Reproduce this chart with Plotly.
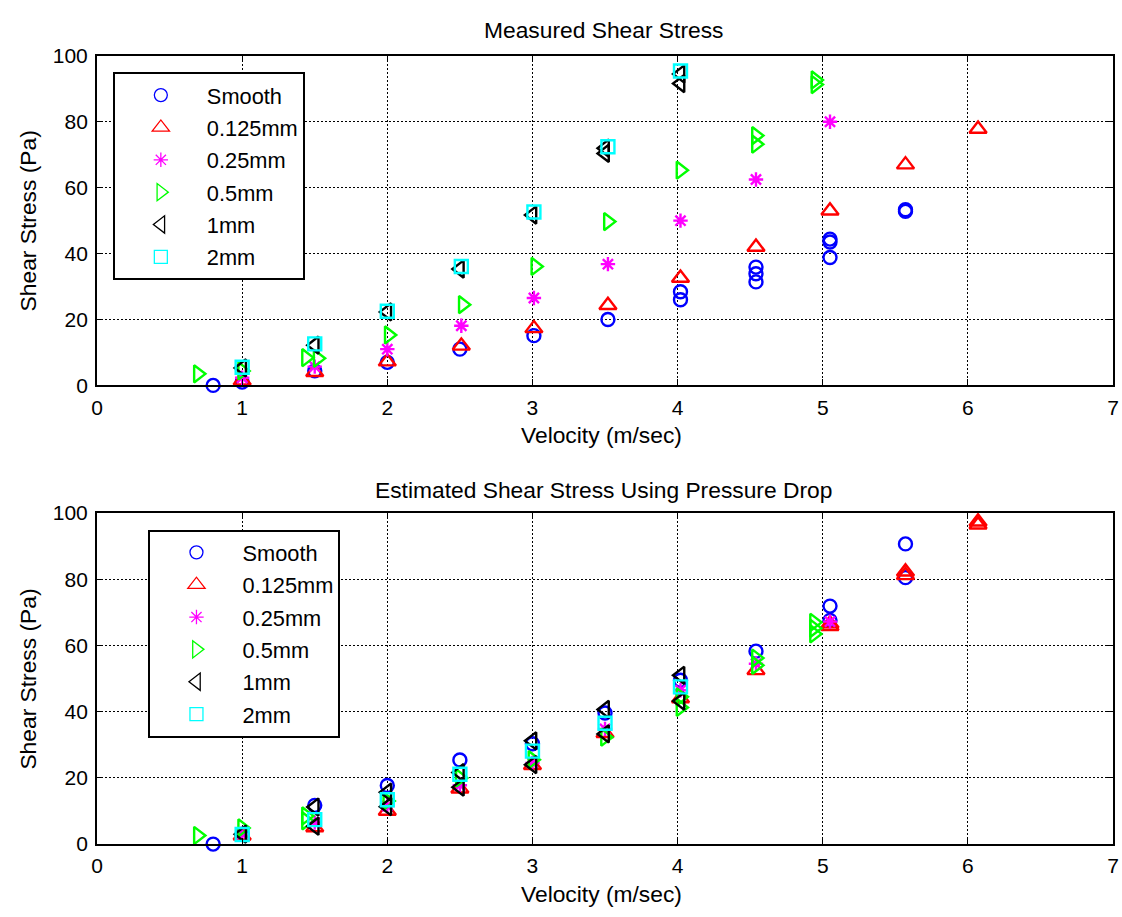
import plotly.graph_objects as go

# ---------------- Measured shear stress (top panel) ----------------
m_smooth_v = [0.80, 1.00, 1.50, 2.00, 2.50, 3.01, 3.52, 4.02, 4.02, 4.54, 4.54, 4.54, 5.05, 5.05, 5.05, 5.57, 5.57]
m_smooth_t = [0.0, 1.0, 4.4, 7.0, 11.0, 15.1, 20.0, 28.4, 26.0, 35.9, 33.9, 31.4, 44.4, 43.5, 38.8, 53.3, 52.8]

m_r0125_v = [1.00, 1.50, 2.00, 2.51, 3.01, 3.52, 4.02, 4.54, 5.05, 5.57, 6.07]
m_r0125_t = [1.4, 4.0, 7.2, 12.0, 17.3, 24.3, 32.6, 42.0, 53.0, 67.0, 77.8]

m_r025_v = [1.00, 1.50, 2.00, 2.51, 3.01, 3.52, 4.02, 4.54, 5.05]
m_r025_t = [2.3, 5.7, 11.0, 18.1, 26.5, 36.8, 50.0, 62.5, 80.0]

m_r05_v = [0.695, 1.00, 1.44, 1.52, 2.01, 2.52, 3.02, 3.52, 4.02, 4.54, 4.54, 4.95, 4.95]
m_r05_t = [3.5, 4.4, 8.4, 8.2, 15.3, 24.5, 36.1, 49.7, 65.3, 75.8, 73.2, 91.3, 92.7]

m_r1_v = [1.00, 1.50, 2.00, 2.50, 3.00, 3.50, 3.50, 4.02, 4.02]
m_r1_t = [5.3, 12.2, 22.3, 35.3, 51.7, 70.4, 72.0, 91.6, 94.5]

m_r2_v = [1.00, 1.50, 2.00, 2.51, 3.01, 3.52, 4.02]
m_r2_t = [5.5, 12.6, 22.5, 36.1, 52.6, 72.4, 95.4]

# ------------- Estimated shear stress from pressure drop (bottom panel) -------------
e_smooth_v = [0.80, 1.00, 1.50, 2.00, 2.50, 3.00, 3.50, 4.02, 4.54, 5.05, 5.05, 5.57, 5.57]
e_smooth_t = [0.0, 3.0, 11.7, 17.7, 25.4, 30.3, 39.6, 49.5, 58.3, 71.9, 67.6, 90.7, 80.5]

e_r0125_v = [1.00, 1.50, 2.00, 2.50, 3.00, 3.50, 4.02, 4.54, 5.05, 5.05, 5.57, 5.57, 6.07, 6.07]
e_r0125_t = [2.5, 5.0, 10.0, 16.7, 23.8, 33.5, 44.0, 52.5, 65.8, 66.6, 81.2, 82.3, 96.5, 97.4]

e_r025_v = [1.00, 1.50, 2.00, 2.50, 3.00, 3.50, 4.02, 4.54, 5.05]
e_r025_t = [3.0, 6.5, 11.5, 17.8, 24.5, 34.8, 46.5, 54.5, 67.2]

e_r05_v = [0.695, 1.00, 1.44, 1.44, 2.00, 2.50, 3.00, 3.50, 4.02, 4.02, 4.54, 4.54, 4.94, 4.94, 4.94]
e_r05_t = [2.6, 4.9, 8.5, 7.0, 13.0, 20.0, 25.5, 32.3, 41.3, 44.5, 56.2, 54.0, 67.0, 65.2, 63.5]

e_r1_v = [1.00, 1.50, 1.50, 2.00, 2.00, 2.50, 2.50, 3.00, 3.00, 3.50, 3.50, 4.02, 4.02]
e_r1_t = [3.0, 11.2, 5.4, 15.7, 11.3, 21.6, 17.2, 31.2, 24.0, 40.7, 33.3, 51.0, 43.2]

e_r2_v = [1.00, 1.50, 2.00, 2.50, 3.00, 3.50, 4.02]
e_r2_t = [2.9, 7.4, 13.4, 21.1, 28.1, 36.5, 47.5]

series_names = ["Smooth", "0.125mm", "0.25mm", "0.5mm", "1mm", "2mm"]
x_ticks = [0, 1, 2, 3, 4, 5, 6, 7]
y_ticks = [0, 20, 40, 60, 80, 100]

styles = [
    dict(symbol="circle-open", color="#0000FF", size=13),
    dict(symbol="triangle-up-open", color="#FF0000", size=15),
    dict(symbol="asterisk-open", color="#FF00FF", size=12),
    dict(symbol="triangle-right-open", color="#00FF00", size=15),
    dict(symbol="triangle-left-open", color="#000000", size=15),
    dict(symbol="square-open", color="#00FFFF", size=13),
]

measured = [(m_smooth_v, m_smooth_t), (m_r0125_v, m_r0125_t), (m_r025_v, m_r025_t),
            (m_r05_v, m_r05_t), (m_r1_v, m_r1_t), (m_r2_v, m_r2_t)]
estimated = [(e_smooth_v, e_smooth_t), (e_r0125_v, e_r0125_t), (e_r025_v, e_r025_t),
             (e_r05_v, e_r05_t), (e_r1_v, e_r1_t), (e_r2_v, e_r2_t)]

FONT = "Liberation Sans, Arial, Helvetica, sans-serif"
W, H = 1122, 917

fig = go.Figure()

panels = [("x", "y", "legend", measured), ("x2", "y2", "legend2", estimated)]
for xa, ya, leg, data in panels:
    for name, st, (v, t) in zip(series_names, styles, data):
        # data markers (bold outlines)
        fig.add_trace(go.Scatter(
            x=v, y=t, mode="markers", name=name,
            xaxis=xa, yaxis=ya, showlegend=False,
            cliponaxis=False,
            marker=dict(symbol=st["symbol"], size=st["size"], color=st["color"],
                        line=dict(color=st["color"], width=2.4)),
        ))
        # legend key with a thin outline
        fig.add_trace(go.Scatter(
            x=[None], y=[None], mode="markers", name=name,
            xaxis=xa, yaxis=ya, legend=leg, legendgroup=leg + name,
            marker=dict(symbol=st["symbol"], size=st["size"], color=st["color"],
                        line=dict(color=st["color"], width=1.3)),
        ))

def px_x(p):
    return p / W

def px_y(p):
    return 1 - p / H

x_dom = [px_x(92), px_x(1119)]
top_dom = [px_y(383), px_y(45)]
bot_dom = [px_y(853.5), px_y(514)]

axis_common = dict(
    showline=True, linecolor="black", linewidth=2, mirror="ticks",
    ticks="inside", ticklen=6, tickwidth=1, tickcolor="black",
    showgrid=True, gridcolor="black", gridwidth=1, griddash="2px,2px",
    zeroline=False, ticklabeloverflow="allow",
    tickfont=dict(family=FONT, size=21, color="black"),
)

legend_common = dict(
    xanchor="left", yanchor="top",
    bgcolor="white", bordercolor="black", borderwidth=2,
    font=dict(family=FONT, size=21.8, color="black"),
    itemwidth=82, tracegroupgap=1,
)

fig.update_layout(
    width=W, height=H,
    margin=dict(l=0, r=0, t=0, b=0),
    paper_bgcolor="white", plot_bgcolor="white",
    font=dict(family=FONT, color="black"),
    xaxis=dict(domain=x_dom, anchor="y", range=[0, 7], tickvals=x_ticks, ticklabelstandoff=2, **axis_common),
    yaxis=dict(domain=top_dom, anchor="x", range=[0, 100], tickvals=y_ticks, ticklabelstandoff=3, **axis_common),
    xaxis2=dict(domain=x_dom, anchor="y2", range=[0, 7], tickvals=x_ticks, ticklabelstandoff=2, **axis_common),
    yaxis2=dict(domain=bot_dom, anchor="x2", range=[0, 100], tickvals=y_ticks, ticklabelstandoff=3, **axis_common),
    legend=dict(x=px_x(108), y=px_y(62), **legend_common),
    legend2=dict(x=px_x(144), y=px_y(531), **legend_common),
)

def label(text, x, y, size=22.8, angle=0):
    fig.add_annotation(text=text, x=px_x(x), y=px_y(y), xref="paper", yref="paper",
                       xanchor="center", yanchor="middle", showarrow=False, textangle=angle,
                       font=dict(family=FONT, size=size, color="black"))

label("Measured Shear Stress", 604, 18)
label("Velocity (m/sec)", 602, 434)
label("Shear Stress (Pa)", 22, 214, angle=-90)
label("Estimated Shear Stress Using Pressure Drop", 604, 490)
label("Velocity (m/sec)", 602, 905)
label("Shear Stress (Pa)", 22, 684, angle=-90)

fig.write_html("out.html")
